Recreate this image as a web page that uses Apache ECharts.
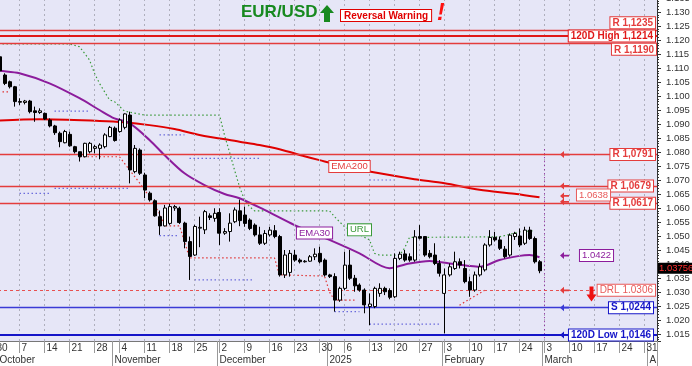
<!DOCTYPE html>
<html><head><meta charset="utf-8">
<script src="https://cdn.jsdelivr.net/npm/echarts@6/dist/echarts.min.js"></script>
<style>html,body{margin:0;padding:0;background:#fff;}#c{width:692px;height:366px;}</style>
</head><body><div id="c"></div>
<script>
// ---------- categories: trading days (weekdays) from 30 Sep 2024 ----------
const categories = (function () {
  const out = []; const d = new Date(Date.UTC(2024, 8, 30));
  while (out.length < 133) { const wd = d.getUTCDay(); if (wd >= 1 && wd <= 5) out.push(d.toISOString().slice(0, 10)); d.setUTCDate(d.getUTCDate() + 1); }
  return out;
})();
const monthTickIdx = [1, 24, 45, 67, 90, 110, 131];
const monthTickLabels = ['October', 'November', 'December', '2025', 'February', 'March', 'A'];
const yTickStep = 0.005;

// ---------- OHLC ----------
const opens = [1.1160,1.1140,1.1075,1.1051,1.1033,1.0980,1.0977,1.0982,1.0947,1.0941,1.0938,1.0914,1.0893,1.0867,1.0833,1.0863,1.0819,1.0801,1.0783,1.0801,
1.0813,1.0813,1.0819,1.0855,1.0885,1.0873,1.0888,1.0932,1.0730,1.0807,1.0718,1.0653,1.0626,1.0569,1.0536,1.0545,1.0600,1.0599,1.0546,1.0480,
1.0432,1.0528,1.0522,1.0572,1.0563,1.0584,1.0510,1.0516,1.0551,1.0590,1.0575,1.0557,1.0539,1.0504,1.0474,1.0504,1.0519,1.0498,1.0361,1.0370,
1.0432,1.0414,1.0408,1.0410,1.0426,1.0438,1.0414,1.0361,1.0355,1.0271,1.0313,1.0396,1.0349,1.0325,1.0307,1.0248,1.0248,1.0295,1.0313,1.0305,
1.0283,1.0420,1.0436,1.0426,1.0414,1.0498,1.0498,1.0438,1.0432,1.0402,1.0295,1.0361,1.0384,1.0408,1.0384,1.0337,1.0307,1.0361,1.0379,1.0468,
1.0495,1.0486,1.0453,1.0432,1.0498,1.0500,1.0474,1.0521,1.0491,1.0408];
const closes = [1.1135,1.1090,1.1045,1.1033,1.0980,1.0978,1.0982,1.0944,1.0941,1.0947,1.0918,1.0893,1.0869,1.0837,1.0873,1.0822,1.0801,1.0783,1.0831,1.0831,
1.0819,1.0825,1.0861,1.0888,1.0841,1.0914,1.0936,1.0736,1.0813,1.0724,1.0664,1.0629,1.0572,1.0536,1.0600,1.0605,1.0605,1.0548,1.0480,1.0427,
1.0534,1.0531,1.0587,1.0566,1.0581,1.0510,1.0516,1.0546,1.0593,1.0555,1.0545,1.0527,1.0504,1.0474,1.0509,1.0521,1.0498,1.0361,1.0432,1.0438,
1.0414,1.0408,1.0410,1.0426,1.0435,1.0408,1.0361,1.0355,1.0271,1.0313,1.0396,1.0349,1.0322,1.0307,1.0254,1.0257,1.0313,1.0313,1.0301,1.0281,
1.0420,1.0435,1.0414,1.0414,1.0497,1.0492,1.0432,1.0426,1.0402,1.0367,1.0361,1.0390,1.0408,1.0396,1.0337,1.0307,1.0361,1.0390,1.0468,1.0495,
1.0486,1.0456,1.0426,1.0503,1.0509,1.0468,1.0521,1.0491,1.0408,1.0376];
const lows = [1.1125,1.1085,1.1039,1.1027,1.0962,1.0968,1.0970,1.0938,1.0908,1.0936,1.0914,1.0888,1.0861,1.0817,1.0831,1.0819,1.0795,1.0766,1.0781,1.0795,
1.0795,1.0774,1.0813,1.0853,1.0837,1.0869,1.0881,1.0688,1.0724,1.0718,1.0635,1.0623,1.0569,1.0504,1.0534,1.0540,1.0590,1.0543,1.0456,1.0343,
1.0429,1.0460,1.0507,1.0557,1.0551,1.0468,1.0504,1.0480,1.0546,1.0535,1.0533,1.0521,1.0498,1.0468,1.0468,1.0498,1.0492,1.0355,1.0350,1.0355,
1.0408,1.0402,1.0405,1.0408,1.0414,1.0402,1.0355,1.0350,1.0230,1.0265,1.0307,1.0343,1.0301,1.0301,1.0224,1.0182,1.0242,1.0283,1.0289,1.0274,
1.0278,1.0414,1.0408,1.0408,1.0408,1.0488,1.0426,1.0420,1.0396,1.0355,1.0152,1.0355,1.0379,1.0384,1.0331,1.0283,1.0301,1.0355,1.0373,1.0462,
1.0480,1.0450,1.0420,1.0426,1.0486,1.0460,1.0468,1.0486,1.0402,1.0367];
const highs = [1.1175,1.1150,1.1081,1.1055,1.1036,1.0992,1.0986,1.0986,1.0962,1.0956,1.0941,1.0920,1.0897,1.0873,1.0879,1.0873,1.0822,1.0801,1.0833,1.0836,
1.0825,1.0831,1.0867,1.0893,1.0891,1.0920,1.0938,1.0944,1.0825,1.0813,1.0726,1.0659,1.0631,1.0591,1.0611,1.0615,1.0611,1.0605,1.0551,1.0498,
1.0540,1.0569,1.0593,1.0581,1.0599,1.0599,1.0528,1.0581,1.0602,1.0630,1.0605,1.0563,1.0545,1.0533,1.0521,1.0533,1.0539,1.0504,1.0450,1.0450,
1.0450,1.0420,1.0414,1.0432,1.0456,1.0462,1.0420,1.0365,1.0367,1.0319,1.0444,1.0450,1.0361,1.0331,1.0313,1.0295,1.0319,1.0331,1.0319,1.0313,
1.0438,1.0444,1.0450,1.0438,1.0521,1.0539,1.0500,1.0450,1.0474,1.0414,1.0384,1.0402,1.0444,1.0420,1.0414,1.0355,1.0373,1.0402,1.0474,1.0521,
1.0515,1.0498,1.0464,1.0509,1.0515,1.0527,1.0533,1.0533,1.0498,1.0414];

// ---------- indicator lines ([day index, value]) ----------
const ema200 = [[0,1.0912],[9,1.0917],[21,1.0911],[26,1.0906],[31,1.0896],[36,1.0882],[41,1.0861],[49,1.0837],[53,1.0825],[57,1.0810],[62,1.0785],[65,1.0771],[71,1.0745],[77,1.0724],[84,1.0703],[90,1.0688],[97,1.0665],[104,1.0651],[109,1.0638]];
const ema30 = [[0,1.1093],[1,1.1090],[5,1.1081],[11,1.1045],[17,1.0992],[21,1.0950],[24,1.0920],[27,1.0903],[31,1.0843],[34,1.0789],[38,1.0724],[42,1.0682],[46,1.0650],[49,1.0635],[54,1.0593],[60,1.0539],[67,1.0486],[73,1.0438],[79,1.0385],[80,1.0388],[83,1.0402],[87,1.0411],[91,1.0402],[95,1.0393],[97,1.0390],[101,1.0414],[105,1.0429],[107,1.0432],[109,1.0424]];
const url = [[0,1.1186],[15,1.1186],[17,1.1176],[19,1.1129],[20,1.1081],[21,1.1045],[23,1.0986],[24,1.0980],[26,1.0946],[30,1.0932],[45,1.0932],[46,1.0860],[47,1.0800],[48,1.0736],[49,1.0676],[50,1.0629],[51,1.0605],[52,1.0590],[67,1.0590],[68,1.0569],[70,1.0533],[75,1.0486],[76,1.0438],[77,1.0432],[81,1.0432],[82,1.0456],[83,1.0495],[101,1.0497],[105,1.0515],[108,1.0519]];
const drlSegments = [
  [[0,1.1015],[3,1.1015]],
  [[17,1.0783],[25,1.0783],[27,1.0736],[29,1.0690],[31,1.0640],[33,1.0580],[34,1.0536],[37,1.0536],[38,1.0480],[39,1.0422],[56,1.0422],[57,1.0361],[66,1.0357],[67,1.0300],[68,1.0271],[72,1.0271]],
  [[93,1.0253],[98,1.0306]]
];
const lowSegments = [
  [[5,1.0652],[11,1.0652]], [[12,1.0670],[27,1.0670]], [[12,1.0946],[19,1.0946]], [[33,1.0861],[38,1.0861]],
  [[39,1.0777],[53,1.0777]], [[33,1.0501],[37,1.0501]], [[40,1.0343],[52,1.0343]], [[68,1.0230],[73,1.0230]],
  [[75,1.0185],[89,1.0185]], [[75,1.0700],[80,1.0700]]
];

// ---------- levels ----------
const levelValues = [1.1235, 1.1214, 1.1190, 1.0791, 1.0679, 1.0617, 1.0306, 1.0244, 1.0146];
const levelLabels = ['R 1,1235', '120D High 1,1214', 'R 1,1190', 'R 1,0791', 'R 1,0679', 'R 1,0617', 'DRL 1.0306', 'S 1,0244', '120D Low 1,0146'];
const ema200Last = 1.0638, ema30Last = 1.0422, lastPrice = 1.03756;
const markerIdx = 110; // 3 March
const arrowIdx = 114;

// ---------- styles ----------
const RED = '#e43c3c', BLUE = '#3a3ad6', DBLUE = '#1414c8', PURPLE = '#8c1c9c', GREEN = '#3a9a3a';
const levelStyle = [
  {c: RED, w: 1.4, pos: 'insideEndTop', bold: true, dist: 2},
  {c: '#e01818', w: 2.2, pos: 'insideEnd', bold: true, dist: 2},
  {c: RED, w: 1.4, pos: 'insideEndBottom', bold: true, dist: 1},
  {c: RED, w: 1.4, pos: 'insideEnd', bold: true, dist: 2},
  {c: RED, w: 1.4, pos: 'insideEnd', bold: true, dist: 4},
  {c: RED, w: 1.4, pos: 'insideEnd', bold: true, dist: 2},
  {c: '#e85050', w: 1, pos: 'insideEnd', bold: false, dist: 2, dash: [3, 3], tc: '#e85a5a'},
  {c: BLUE, w: 1.3, pos: 'insideEnd', bold: true, dist: 4, tc: DBLUE},
  {c: DBLUE, w: 2.2, pos: 'insideEnd', bold: true, dist: 4, tc: DBLUE}
];
const FONT = 'Arial, "Liberation Sans", sans-serif';

const candleData = opens.map((o, i) => [o, closes[i], lows[i], highs[i]]);
const mondays = categories.map((c, i) => i).filter(i => i % 5 === 0);

const levelLines = levelValues.map((v, k) => {
  const s = levelStyle[k];
  return {
    yAxis: v,
    lineStyle: {color: s.c, width: s.w, type: s.dash || 'solid'},
    label: {
      show: true, position: s.pos, distance: s.dist, formatter: levelLabels[k],
      color: s.tc || s.c, fontSize: 10, fontFamily: FONT, fontWeight: s.bold ? 'bold' : 'normal',
      backgroundColor: '#fff', borderColor: s.tc || s.c, borderWidth: 1, padding: [1, 2, 0, 2], lineHeight: 10
    }
  };
});

const arrowPath = 'path://M0,4 L4,0 L4,3 L9,3 L9,5 L4,5 L4,8 Z';
const downArrow = 'path://M3,0 L7,0 L7,8 L10,8 L5,15 L0,8 L3,8 Z';
function arrow(v, color) { return {coord: [arrowIdx, v], symbol: arrowPath, symbolSize: [9, 7], itemStyle: {color}, label: {show: false}}; }
function tag(idx, v, text, color, offset) {
  return {coord: [idx, v], symbol: 'rect', symbolSize: 0, itemStyle: {color: 'transparent'},
    label: {show: true, position: 'inside', formatter: text, color, fontSize: 9.5, fontFamily: FONT,
      backgroundColor: '#fff', borderColor: color, borderWidth: 1, padding: [1, 2, 0, 2], lineHeight: 10, offset: offset || [0, 0]}};
}

const segSeries = [];
drlSegments.forEach(seg => segSeries.push({type: 'line', data: seg, symbol: 'none', silent: true, z: 3,
  lineStyle: {color: '#e03434', width: 1.2, type: [1.5, 2.5]}}));
lowSegments.forEach(seg => segSeries.push({type: 'line', data: seg, symbol: 'none', silent: true, z: 3,
  lineStyle: {color: '#6c6cdc', width: 1.2, type: [1.5, 2.5]}}));

const chart = echarts.init(document.getElementById('c'), null, {renderer: 'canvas'});
chart.setOption({
  animation: false,
  backgroundColor: '#ffffff',
  textStyle: {fontFamily: FONT},
  grid: {left: -8, right: 35, top: -2, bottom: 25, show: true, backgroundColor: '#e6e6f7', borderWidth: 0, containLabel: false, outerBoundsMode: 'none'},
  xAxis: [{
    type: 'category', data: categories, boundaryGap: true, position: 'bottom',
    axisLine: {show: true, lineStyle: {color: '#777', width: 1}},
    axisTick: {show: true, alignWithLabel: true, interval: (i) => i % 5 === 0, length: 12, lineStyle: {color: '#999'}},
    axisLabel: {show: true, interval: (i) => i % 5 === 0, formatter: (v) => String(parseInt(v.slice(8), 10)),
      align: 'left', margin: 2, padding: [0, 0, 0, 2], fontSize: 10, color: '#333', fontFamily: FONT, hideOverlap: false},
    splitLine: {show: false}
  }, {
    type: 'category', data: categories, boundaryGap: true, position: 'bottom',
    axisLine: {show: false},
    axisTick: {show: true, alignWithLabel: false, interval: (i) => monthTickIdx.indexOf(i) >= 0, length: 25, lineStyle: {color: '#999'}},
    axisLabel: {show: true, interval: (i) => monthTickIdx.indexOf(i) >= 0,
      formatter: (v, i) => monthTickLabels[monthTickIdx.indexOf(i)] || '',
      align: 'left', margin: 14, padding: [0, 0, 0, 0], fontSize: 10, color: '#333', fontFamily: FONT, hideOverlap: false},
    splitLine: {show: false}
  }],
  yAxis: {
    type: 'value', position: 'right', min: 1.0125, max: 1.135, splitNumber: 25,
    axisLine: {show: true, lineStyle: {color: '#333'}},
    axisTick: {show: true, inside: false, length: 4, lineStyle: {color: '#333'}},
    minorTick: {show: true, splitNumber: 5, length: 2, lineStyle: {color: '#333'}},
    axisLabel: {show: true, margin: 9, fontSize: 9.5, color: '#333', fontFamily: FONT, hideOverlap: false, showMaxLabel: true,
      formatter: (v) => Math.abs(v / yTickStep - Math.round(v / yTickStep)) < 1e-6 ? v.toFixed(3) : ''},
    splitLine: {show: false}
  },
  series: [
    {type: 'line', data: [], silent: true, z: 1,
      markLine: {silent: true, symbol: 'none', animation: false, precision: 5,
        data: mondays.map(i => ({xAxis: i, lineStyle: {color: '#aeaebc', width: 1, type: [2, 3]}, label: {show: false}}))
          .concat([[{coord: [markerIdx, 1.0810], lineStyle: {color: PURPLE, width: 1, type: [1, 3]}, label: {show: false}}, {coord: [markerIdx, 1.0125]}]])}},
    ...segSeries,
    {type: 'line', data: url, symbol: 'none', silent: true, z: 4, lineStyle: {color: GREEN, width: 1.2, type: [1.5, 2.5]},
      markPoint: {silent: true, data: [tag(73, 1.0522, 'URL', '#3a9a3a')]}},
    {type: 'line', data: ema200, symbol: 'none', smooth: 0.3, silent: true, z: 4, lineStyle: {color: '#e00000', width: 2},
      markPoint: {silent: true, data: [tag(71, 1.0748, 'EMA200', RED)]}},
    {type: 'line', data: ema30, symbol: 'none', smooth: 0.3, silent: true, z: 4, lineStyle: {color: PURPLE, width: 2},
      markPoint: {silent: true, data: [tag(64, 1.0511, 'EMA30', PURPLE)]}},
    {type: 'candlestick', data: candleData, barWidth: 3.5, z: 6, silent: true,
      itemStyle: {color: '#ffffff', color0: '#000000', borderColor: '#000000', borderColor0: '#000000', borderWidth: 1},
      markLine: {silent: true, symbol: 'none', animation: false, precision: 5, data: levelLines},
      markPoint: {silent: true, animation: false, data: [
        arrow(levelValues[3], RED), arrow(levelValues[4], RED), arrow(ema200Last + 0.0005, RED), arrow(levelValues[5] + 0.0005, RED),
        arrow(levelValues[6], RED), arrow(levelValues[7], BLUE), arrow(levelValues[8], DBLUE), arrow(ema30Last + 0.0008, PURPLE),
        {coord: [119, 1.0293], symbol: downArrow, symbolSize: [10, 15], symbolOffset: [2, 0], itemStyle: {color: '#ee1111'}, label: {show: false}},
        tag(120, 1.0646, ema200Last.toFixed(4), '#e85a5a', [-1, 0]),
        tag(120, 1.0430, ema30Last.toFixed(4), PURPLE, [2, 0])
      ]}}
  ]
});

const py = chart.convertToPixel({yAxisIndex: 0}, lastPrice);
chart.setOption({graphic: {elements: [
  {type: 'text', left: 241, top: 4, z: 100, style: {text: 'EUR/USD', font: 'bold 17px ' + FONT, fill: '#17891f'}},
  {type: 'polygon', z: 100, shape: {points: [[327, 5], [334, 13], [330, 13], [330, 22], [324, 22], [324, 13], [320, 13]]}, style: {fill: '#17891f'}},
  {type: 'text', left: 340, top: 9, z: 100, style: {text: 'Reversal Warning', font: 'bold 10px ' + FONT, fill: '#e00000',
    backgroundColor: '#fff', borderColor: '#e00000', borderWidth: 1, padding: [1, 3, 0, 3]}},
  {type: 'text', left: 437, top: 2, z: 100, style: {text: '!', font: 'italic bold 23px ' + FONT, fill: '#ff1010'}},
  {type: 'text', left: 658, top: py - 8, z: 100, style: {text: lastPrice.toFixed(5), font: '9.5px ' + FONT, fill: '#ff3030',
    backgroundColor: '#000', padding: [1, 1, 0, 1]}}
]}});
</script></body></html>
